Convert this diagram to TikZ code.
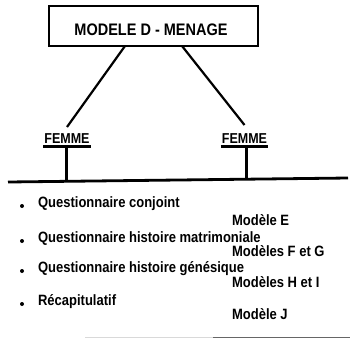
\documentclass[tikz,border=0pt]{standalone}
\usepackage{fontspec}
\setmainfont{Liberation Sans}
\usetikzlibrary{positioning}
\newcommand{\haut}[1]{\scalebox{1}[1.15]{#1}}

\begin{document}
\begin{tikzpicture}[x=1pt, y=-1pt, line width=2.2pt,
        femme/.style={font=\bfseries\fontsize{12.5}{14}\selectfont, inner sep=0pt, anchor=base},
        item/.style={font=\bfseries\fontsize{13}{15}\selectfont, inner sep=0pt, anchor=base west},
        modele/.style={font=\bfseries\fontsize{13}{15}\selectfont, inner sep=0pt, anchor=base west}]
                \useasboundingbox (0,0) rectangle (350,338);
                % tete : le menage
                \node[draw, minimum width=209pt, minimum height=40pt, inner sep=0pt] (menage) at (153.5,26) {};
                \node[font=\bfseries\fontsize{14.5}{16}\selectfont, inner sep=0pt, anchor=base] (titre) at (151,35) {\haut{MODELE D - MENAGE}};
                \node[femme] (femA) at (67,143) {\haut{FEMME}};
                \node[femme] (femB) at (244.5,143) {\haut{FEMME}};
                \draw (125,46) -- ([yshift=5pt]femA.north);
                \draw (182,46) -- ([yshift=7pt]femB.north);
                % soulignes et barre
                \coordinate (barG) at (8,182);
                \coordinate (barD) at (348,178);
                \draw ([yshift=-3.5pt]femA.base west) -- ([yshift=-3.5pt]femA.base east);
                \draw ([yshift=-3.5pt]femB.base west) -- ([yshift=-3.5pt]femB.base east);
                \draw (66.5,147) -- (66.5,181.5);
                \draw (246.5,147) -- (246.5,179);
                \draw[line width=2.8pt] (barG) -- (barD);
                % questionnaires
                \foreach \n/\y/\t in {q1/207/Questionnaire conjoint, q2/242/Questionnaire histoire matrimoniale, q3/272/Questionnaire histoire génésique, q4/305/Récapitulatif}{
                    \fill (22,\y-1) circle (2);
                    \node[item] (\n) at (37,\y) {\haut{\t}};
                }
                \foreach \n/\y/\t in {mE/225/Modèle E, mFG/256/Modèles F et G, mHI/287/Modèles H et I, mJ/319/Modèle J}{
                    \node[modele] (\n) at (231,\y) {\haut{\t}};
                }
                \draw[black!15, line width=1pt] (85,337) -- (213,337);
                \draw[black!60, line width=1pt] (213,337) -- (350,337);
            \end{tikzpicture}
\end{document}
